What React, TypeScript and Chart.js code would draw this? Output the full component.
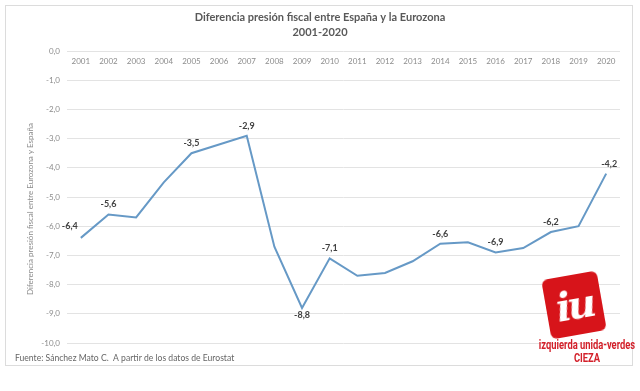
import React, { useEffect, useRef } from "react";
import { Chart, registerables } from "chart.js";

Chart.register(...registerables);

const years = ["2001", "2002", "2003", "2004", "2005", "2006", "2007", "2008", "2009", "2010",
  "2011", "2012", "2013", "2014", "2015", "2016", "2017", "2018", "2019", "2020"];
const diff = [-6.4, -5.6, -5.7, -4.5, -3.5, -3.2, -2.9, -6.7, -8.8, -7.1,
  -7.7, -7.6, -7.2, -6.6, -6.55, -6.9, -6.75, -6.2, -6.0, -4.2];
const labelled = [0, 1, 4, 6, 8, 9, 13, 15, 17, 19];
const yTicks = [0, -1, -2, -3, -4, -5, -6, -7, -8, -9, -10];

const titleLines = ["Diferencia presión fiscal entre España y la Eurozona", "2001-2020"];
const yTitle = "Diferencia presión fiscal entre Eurozona y España";
const footer = "Fuente: Sánchez Mato C.  A partir de los datos de Eurostat";

const fmt = (v: number) => v.toFixed(1).replace(".", ",");

const textPlugin = {
  id: "textPlugin",
  afterDraw(chart: any) {
    const ctx = chart.ctx;
    const xs = chart.scales.x;
    const ys = chart.scales.y;
    ctx.save();
    // titles
    ctx.fillStyle = "#595959";
    ctx.font = "bold 11px Lato";
    ctx.textAlign = "center";
    ctx.textBaseline = "middle";
    ctx.fillText(titleLines[0], 320, 17);
    ctx.fillText(titleLines[1], 320, 32);
    // category labels under the zero line
    ctx.font = "8px Lato";
    ctx.fillStyle = "#8c8c8c";
    const y0 = ys.getPixelForValue(0);
    years.forEach((yr, i) => ctx.fillText(yr, xs.getPixelForValue(i), y0 + 10));
    // y axis title
    ctx.save();
    ctx.translate(30, 209);
    ctx.rotate(-Math.PI / 2);
    ctx.fillText(yTitle, 0, 0);
    ctx.restore();
    // data labels
    const meta = chart.getDatasetMeta(0);
    ctx.font = "bold 9px Lato";
    ctx.fillStyle = "#404040";
    labelled.forEach((i) => {
      const p = meta.data[i];
      const t = fmt(diff[i]);
      if (i === 0) {
        ctx.fillText(t, p.x - 11, p.y - 12);
      } else if (diff[i] === Math.min(...diff)) {
        ctx.fillText(t, p.x, p.y + 7);
      } else {
        ctx.fillText(t, p.x + (i === 19 ? 3 : 0), p.y - 10);
      }
    });
    // footer
    ctx.font = "8.6px Lato";
    ctx.fillStyle = "#666666";
    ctx.textAlign = "left";
    ctx.fillText(footer, 15, 358);
    ctx.restore();
  },
};

export default function App() {
  const ref = useRef<HTMLCanvasElement>(null);
  useEffect(() => {
    document.body.style.margin = "0";
    const chart = new Chart(ref.current as HTMLCanvasElement, {
      type: "line",
      data: {
        labels: years,
        datasets: [
          {
            data: diff,
            borderColor: "#6699c6",
            borderWidth: 2,
            pointRadius: 0,
            tension: 0,
            fill: false,
          },
        ],
      },
      options: {
        responsive: false,
        animation: false,
        layout: { padding: { top: 51, right: 20, bottom: 48, left: 0 } },
        plugins: { legend: { display: false }, tooltip: { enabled: false }, title: { display: false } },
        scales: {
          x: { type: "category", display: false, offset: true },
          y: {
            min: -10,
            max: 0,
            afterBuildTicks: (s: any) => {
              s.ticks = yTicks.map((v) => ({ value: v }));
            },
            afterFit: (s: any) => {
              s.width = 67;
            },
            ticks: {
              callback: (v: any) => fmt(Number(v)),
              color: "#8c8c8c",
              font: { family: "Lato", size: 8 },
              padding: 7,
            },
            grid: { color: "#e3e3e3", drawTicks: false, lineWidth: 1 },
            border: { display: false },
          },
        },
      },
      plugins: [textPlugin],
    });
    return () => chart.destroy();
  }, []);

  return (
    <div style={{ position: "fixed", left: 0, top: 0, width: 640, height: 391, background: "#fff", overflow: "hidden" }}>
      <div style={{ position: "absolute", left: 5, top: 5, width: 626, height: 359, border: "1px solid #dcdcdc" }} />
      <canvas ref={ref} width={640} height={391} style={{ position: "absolute", left: 0, top: 0, width: 640, height: 391 }} />
      <div
        style={{
          position: "absolute", left: 546, top: 275, width: 56, height: 60, background: "#d7141a",
          borderRadius: 6, transform: "rotate(-10deg)", color: "#fff", fontFamily: "'DejaVu Serif', serif",
          fontWeight: 900, fontStyle: "italic", fontSize: 40, lineHeight: "60px", textAlign: "center", letterSpacing: -4,
        }}
      >
        iu
      </div>
      <div
        style={{
          position: "absolute", left: 520, top: 339, width: 134, textAlign: "center", color: "#d3202a",
          fontFamily: "Roboto", fontWeight: 700, fontSize: 12, lineHeight: "13px", transform: "scaleX(0.78)",
        }}
      >
        izquierda unida-verdes
        <br />
        CIEZA
      </div>
    </div>
  );
}
